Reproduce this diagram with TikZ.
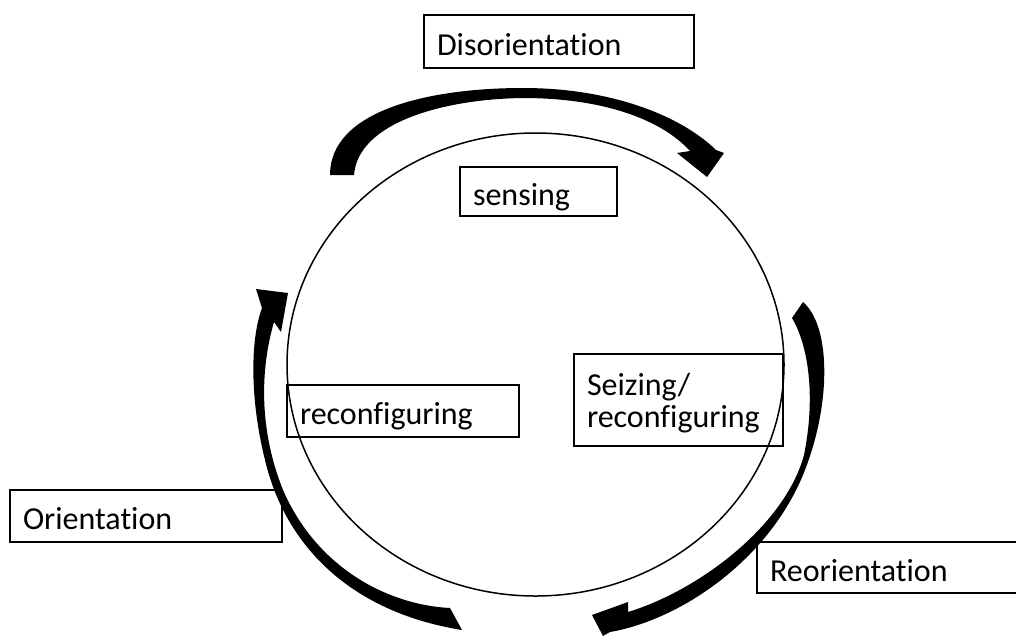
\documentclass[tikz,border=0pt]{standalone}
\usepackage{fontspec}
\setmainfont{Carlito}[Ligatures=NoCommon]
\usetikzlibrary{shapes.geometric}
\begin{document}
\begin{tikzpicture}[x=1pt,y=-1pt,
  box/.style={draw, line width=1.6pt, rectangle, inner xsep=13pt, inner ysep=0pt,
    align=left, font=\fontsize{32}{32}\selectfont, text height=30pt, text depth=3pt},
  ring/.style={draw, line width=1.5pt, ellipse, inner sep=0pt},
  sweep/.style={fill=black}]
\useasboundingbox (0,0) rectangle (1016,635);
\clip (0,0) rectangle (1016,635);

% central cycle
\node[ring, minimum width=497pt, minimum height=463pt] (cyc) at (535.5,364.5) {};

% stage labels
\node[box, minimum width=270pt, minimum height=53pt, text width=244pt] (disor) at (559,41.5) {Disorientation};
\node[box, minimum width=157pt, minimum height=49pt, text width=131pt] (sens) at (538.5,191.5) {sensing};
\node[box, minimum width=232pt, minimum height=52pt, text width=206pt] (reconf) at (403,411) {reconfiguring};
\node[box, minimum width=209pt, minimum height=92pt, text width=183pt, text depth=40pt] (seize) at (678.5,400) {Seizing/\\reconfiguring};
\node[box, minimum width=272pt, minimum height=52pt, text width=246pt] (orient) at (146,516) {Orientation};
\node[box, minimum width=273pt, minimum height=51pt, text width=247pt] (reor) at (893.5,567.5) {Reorientation};

% top sweep: left to right over the cycle
\fill[sweep] (330,175) .. controls (330,110) and (430,88) .. (523,88)
  .. controls (610,88) and (680,115) .. (716,150)
  -- (724,153) -- (707,177) -- (677,153) -- (690,151)
  .. controls (660,118) and (600,98) .. (523,98)
  .. controls (445,99) and (358,122) .. (354,175)
  -- cycle;

% right sweep: down to the bottom
\fill[sweep] (803,302) .. controls (830,325) and (832,400) .. (805,470)
  .. controls (770,560) and (680,620) .. (610,632)
  -- (603,636) -- (592,615) -- (628,602) -- (628,612)
  .. controls (700,590) and (785,525) .. (804,455)
  .. controls (816,395) and (808,345) .. (792,318)
  -- cycle;

% left sweep: up from the bottom
\fill[sweep] (462,630) .. controls (350,612) and (285,545) .. (265,460)
  .. controls (250,400) and (250,340) .. (262,308)
  -- (256,289) -- (288,293) -- (281,332) -- (274,322)
  .. controls (260,370) and (259,430) .. (283,490)
  .. controls (318,570) and (390,605) .. (450,608)
  -- cycle;
\end{tikzpicture}
\end{document}
